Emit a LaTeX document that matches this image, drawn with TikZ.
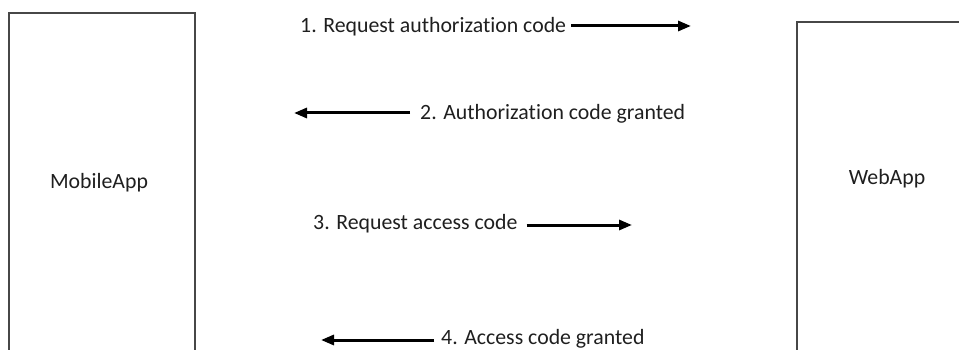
\documentclass[tikz,border=0pt]{standalone}
\usepackage{fontspec}
\setmainfont{Carlito}[Ligatures=NoCommon]
\usetikzlibrary{arrows.meta}

\tikzset{
  box/.style={draw=black!72, line width=1.6pt, minimum width=186pt, inner sep=0pt},
  msg/.style={font=\fontsize{21.8}{25}\selectfont, text=black!88, inner sep=0pt},
  flow/.style={line width=3pt, -{Triangle[length=13pt,width=10pt]}}
}

\begin{document}
\begin{tikzpicture}[x=1pt,y=-1pt]
\useasboundingbox (0,0) rectangle (959,350);
\begin{scope}
\clip (0,0) rectangle (959,350);
% the two parties
\node[box, minimum height=340pt] (mobile) at (102,183) {};
\node[msg] (mobile name) at ([xshift=-3pt]mobile.center) {MobileApp};
\node[box, minimum height=340pt, minimum width=180pt] (web) at (887,192) {};
\node[msg] (web name) at ([yshift=13pt]web.center) {WebApp};

% messages
\node[msg, anchor=west] (req1) at (300,27) {1. Request authorization code};
\coordinate (req1 end) at (691,26);
\draw[flow] ([xshift=5pt]req1.east |- req1 end) -- (req1 end);

\node[msg, anchor=west] (grant2) at (420,114) {2. Authorization code granted};
\coordinate (grant2 end) at (294,113);
\draw[flow] ([xshift=-10pt]grant2.west |- grant2 end) -- (grant2 end);

\node[msg, anchor=west] (req3) at (313,224) {3. Request access code};
\coordinate (req3 end) at (632,225);
\draw[flow] ([xshift=9pt]req3.east |- req3 end) -- (req3 end);

\node[msg, anchor=west] (grant4) at (441,339) {4. Access code granted};
\coordinate (grant4 end) at (321,340);
\draw[flow] ([xshift=-7pt]grant4.west |- grant4 end) -- (grant4 end);
\end{scope}
\end{tikzpicture}
\end{document}
